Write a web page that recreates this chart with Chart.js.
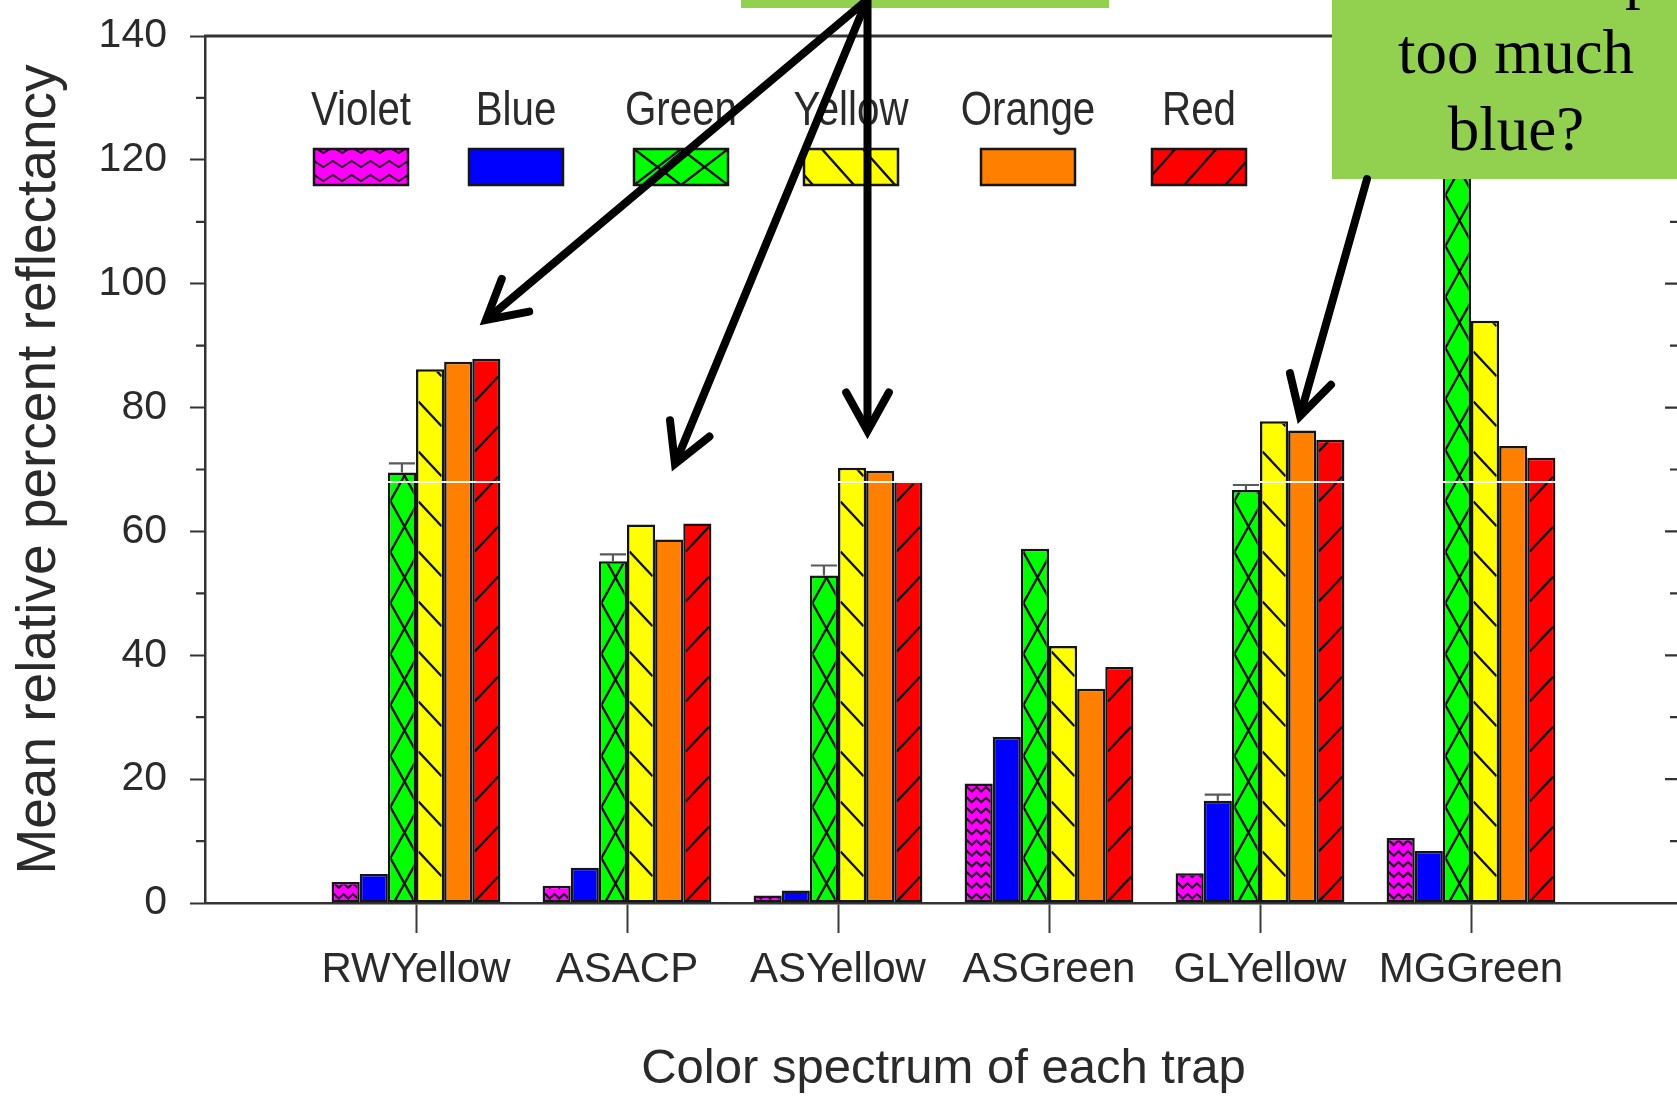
<!DOCTYPE html>
<html>
<head>
<meta charset="utf-8">
<title>Mean relative percent reflectancy by trap</title>
<script src="https://cdn.jsdelivr.net/npm/chart.js@4.4.1/dist/chart.umd.min.js"></script>
<style>
  html, body { margin: 0; padding: 0; overflow: hidden; background: #ffffff; }
  #wrap { position: relative; width: 1677px; height: 1101px; overflow: hidden; }
  canvas { display: block; }
</style>
</head>
<body>
<div id="wrap"><canvas id="chart" width="1690" height="1101"></canvas></div>
<script>
// ---- data ----
const categories = ['RWYellow', 'ASACP', 'ASYellow', 'ASGreen', 'GLYellow', 'MGGreen'];
const seriesNames = ['Violet', 'Blue', 'Green', 'Yellow', 'Orange', 'Red'];
const violet = [3.4, 2.8, 1.2, 19.3, 4.8, 10.5];
const blue   = [4.7, 5.7, 2.0, 26.8, 16.5, 8.4];
const green  = [69.5, 55.2, 52.9, 57.2, 66.7, 126.0];
const yellow = [86.2, 61.1, 70.3, 41.5, 77.8, 94.0];
const orange = [87.4, 58.7, 69.8, 34.6, 76.3, 73.8];
const red    = [87.9, 61.3, 68.1, 38.1, 74.8, 71.9];
const blueErr  = [0, 0, 0, 0, 1.0, 0];
const greenErr = [1.5, 1.1, 1.6, 0, 0.8, 0];
const yTicks = [0, 20, 40, 60, 80, 100, 120, 140];

// ---- styles ----
const SANS = '"Liberation Sans", Arial, Helvetica, sans-serif';
const SERIF = '"Liberation Serif", "Times New Roman", serif';
const INK = '#2a2a2a';
const fills = ['#ff00ff', '#0000ff', '#00ff00', '#ffff00', '#ff8000', '#ff0000'];
const hatchKinds = ['zigzag', null, 'cross', 'back', null, 'fwd'];
const seriesValues = [violet, blue, green, yellow, orange, red];
const seriesErrors = [null, blueErr, greenErr, null, null, null];

// one empty slot on each side of the traps keeps the frame a full step away
const slots = ['', ...categories, ''];
const pad = arr => [null, ...arr, null];

function hasFont(name) {
  const c = document.createElement('canvas').getContext('2d');
  const probe = 'RWYellow ASGreen MGGreen';
  c.font = '40px monospace';
  const w0 = c.measureText(probe).width;
  c.font = '40px "' + name + '", monospace';
  return Math.abs(c.measureText(probe).width - w0) > 0.5;
}
const narrow = hasFont('Liberation Sans Narrow');
const catFont = narrow ? { family: '"Liberation Sans Narrow", ' + SANS, size: 50 } : { family: SANS, size: 42 };

// hatch settings inside bars and inside legend swatches
const barHatch = {
  zigzag: { rowH: 10.7, hw: 4.7, amp: 4.5, phase: 3, color: '#2a002a', lw: 2.2 },
  cross:  { cw: 28.13, ph: 51, phase: 18, lw: 2.4 },
  back:   { slope: 1.07, ph: 50, phase: 0, lw: 2.4 },
  fwd:    { slope: 1.07, ph: 50, phase: 0, lw: 2.4 }
};
const swatchHatch = {
  zigzag: { rowH: 14, hw: 9.4, amp: 6, phase: 4, color: '#2a002a', lw: 2 },
  cross:  { cw: 47, ph: 36, phase: 18, lw: 2.4 },
  back:   { slope: 1.12, ph: 46, phase: 10, lw: 2.4 },
  fwd:    { slope: 1.12, ph: 46, phase: 10, lw: 2.4 }
};

function drawHatch(ctx, kind, l, t, r, b, o) {
  if (r <= l || b <= t) return;
  ctx.save();
  ctx.beginPath();
  ctx.rect(l, t, r - l, b - t);
  ctx.clip();
  ctx.strokeStyle = o.color || '#111111';
  ctx.lineWidth = o.lw || 2;
  ctx.lineJoin = 'miter';
  ctx.beginPath();
  if (kind === 'cross') {
    const h = o.ph / 2;
    for (let x0 = l; x0 < r; x0 += o.cw) {
      for (let yc = b - o.phase + o.ph; yc > t - o.ph; yc -= o.ph) {
        ctx.moveTo(x0, yc - h); ctx.lineTo(x0 + o.cw, yc + h);
        ctx.moveTo(x0, yc + h); ctx.lineTo(x0 + o.cw, yc - h);
      }
    }
  } else if (kind === 'back' || kind === 'fwd') {
    const dy = o.slope * (r - l);
    const sgn = kind === 'back' ? 1 : -1;
    const n = Math.ceil((b - t + dy) / o.ph) + 2;
    for (let k = -n; k <= n; k++) {
      const y = b - o.phase + k * o.ph;
      ctx.moveTo(l, y); ctx.lineTo(r, y + sgn * dy);
    }
  } else if (kind === 'zigzag') {
    for (let y = b - o.phase; y > t - o.amp; y -= o.rowH) {
      let up = false;
      ctx.moveTo(l - o.hw, y);
      for (let x = l; x <= r + o.hw; x += o.hw) {
        up = !up;
        ctx.lineTo(x, up ? y - o.amp : y);
      }
    }
  }
  ctx.stroke();
  ctx.restore();
}

// hatch fills and error caps on top of the plain bars
const barDetailPlugin = {
  id: 'barDetail',
  afterDatasetsDraw(chart) {
    const ctx = chart.ctx;
    const yScale = chart.scales.y;
    chart.data.datasets.forEach((ds, di) => {
      const meta = chart.getDatasetMeta(di);
      meta.data.forEach((el, i) => {
        const v = ds.data[i];
        if (v == null) return;
        const p = el.getProps(['x', 'y', 'base', 'width'], true);
        const l = p.x - p.width / 2, r = p.x + p.width / 2;
        if (ds.hatch) drawHatch(ctx, ds.hatch, l + 2.5, p.y + 2.5, r - 2.5, p.base - 1, barHatch[ds.hatch]);
        if (ds.err && ds.err[i]) {
          const yTop = yScale.getPixelForValue(v + ds.err[i]);
          ctx.save();
          ctx.strokeStyle = '#5a5a5a';
          ctx.lineWidth = 2.2;
          ctx.beginPath();
          ctx.moveTo(l + 1, yTop); ctx.lineTo(r - 1, yTop);
          ctx.moveTo(p.x, yTop); ctx.lineTo(p.x, p.y);
          ctx.stroke();
          ctx.restore();
        }
      });
    });
  }
};

function squeezedText(ctx, text, cx, baseline, size, sx, font, color) {
  ctx.save();
  ctx.translate(cx, baseline);
  ctx.scale(sx, 1);
  ctx.font = size + 'px ' + font;
  ctx.fillStyle = color;
  ctx.textAlign = 'center';
  ctx.textBaseline = 'alphabetic';
  ctx.fillText(text, 0, 0);
  ctx.restore();
}

function arrow(ctx, x1, y1, x2, y2, lw, head, ang) {
  const a = Math.atan2(y1 - y2, x1 - x2);
  ctx.save();
  ctx.strokeStyle = '#000000';
  ctx.lineWidth = lw;
  ctx.lineCap = 'round';
  ctx.lineJoin = 'round';
  ctx.beginPath();
  ctx.moveTo(x1, y1);
  ctx.lineTo(x2 + Math.cos(a) * lw * 0.9, y2 + Math.sin(a) * lw * 0.9);
  ctx.stroke();
  ctx.lineJoin = 'miter';
  ctx.beginPath();
  ctx.moveTo(x2 + head * Math.cos(a + ang), y2 + head * Math.sin(a + ang));
  ctx.lineTo(x2, y2);
  ctx.lineTo(x2 + head * Math.cos(a - ang), y2 + head * Math.sin(a - ang));
  ctx.stroke();
  ctx.restore();
}

// frame, extra ticks, legend and the slide callouts
const overlayPlugin = {
  id: 'overlay',
  afterDraw(chart) {
    const ctx = chart.ctx;
    const area = chart.chartArea;
    const yScale = chart.scales.y;

    ctx.save();
    ctx.strokeStyle = '#333333';
    // top frame line
    ctx.lineWidth = 3;
    ctx.beginPath();
    ctx.moveTo(area.left - 1, area.top);
    ctx.lineTo(area.right + 2, area.top);
    ctx.stroke();
    // right frame with inward ticks
    ctx.lineWidth = 2.5;
    ctx.beginPath();
    ctx.moveTo(area.right, area.top);
    ctx.lineTo(area.right, area.bottom);
    ctx.stroke();
    ctx.lineWidth = 2.2;
    ctx.beginPath();
    for (let v = 10; v < 140; v += 10) {
      const py = yScale.getPixelForValue(v);
      const len = v % 20 === 0 ? 17 : 12;
      ctx.moveTo(area.right - len, py); ctx.lineTo(area.right, py);
      if (v % 20 !== 0) { ctx.moveTo(area.left - 9, py); ctx.lineTo(area.left, py); }
    }
    ctx.stroke();
    ctx.restore();

    // thin white seam across the plot at mid-height
    ctx.save();
    ctx.fillStyle = 'rgba(255,255,255,0.95)';
    ctx.fillRect(area.left + 2, 481, area.right - area.left, 2);
    ctx.restore();

    // legend: label above a patterned swatch
    const centers = [361, 516, 681, 851, 1028, 1199];
    const sw = 94, sh = 36, sTop = 149;
    chart.data.datasets.forEach((ds, i) => {
      const cx = centers[i];
      squeezedText(ctx, ds.label, cx, 125, 48, 0.84, SANS, INK);
      const l = cx - sw / 2;
      ctx.save();
      ctx.fillStyle = ds.backgroundColor;
      ctx.fillRect(l, sTop, sw, sh);
      ctx.restore();
      if (ds.hatch) drawHatch(ctx, ds.hatch, l, sTop, l + sw, sTop + sh, swatchHatch[ds.hatch]);
      ctx.save();
      ctx.strokeStyle = '#151515';
      ctx.lineWidth = 2.5;
      ctx.strokeRect(l, sTop, sw, sh);
      ctx.restore();
    });

    // callout boxes
    ctx.save();
    ctx.fillStyle = '#92d050';
    ctx.fillRect(741, 0, 368, 8);
    ctx.fillRect(1332, 0, 360, 179);
    ctx.fillStyle = '#000000';
    ctx.font = '63px ' + SERIF;
    ctx.textAlign = 'center';
    ctx.textBaseline = 'alphabetic';
    ctx.fillText('Yellow trap', 1510, -4);
    ctx.fillText('too much', 1516, 73);
    ctx.fillText('blue?', 1516, 150);
    ctx.restore();

    // arrows
    const head = 44, ang = 29 * Math.PI / 180;
    arrow(ctx, 867, 0, 486, 320, 8, head, ang);
    arrow(ctx, 867, 0, 675, 464, 8, head, ang);
    arrow(ctx, 867.5, 0, 867.5, 431, 8, head, ang);
    arrow(ctx, 1367, 179, 1300, 416, 8, head, ang);
  }
};

const datasets = seriesNames.map((name, i) => ({
  label: name,
  data: pad(seriesValues[i]),
  backgroundColor: fills[i],
  borderColor: '#151515',
  borderWidth: 2.5,
  borderSkipped: false,
  categoryPercentage: 0.8,
  barPercentage: 1.0,
  hatch: hatchKinds[i],
  err: seriesErrors[i] ? pad(seriesErrors[i]) : null
}));

new Chart(document.getElementById('chart'), {
  type: 'bar',
  data: { labels: slots, datasets },
  options: {
    responsive: false,
    animation: false,
    devicePixelRatio: 1,
    layout: { padding: { left: 0, right: 8, top: 36, bottom: 0 } },
    plugins: { legend: { display: false }, tooltip: { enabled: false } },
    scales: {
      x: {
        type: 'category',
        offset: false,
        grid: {
          display: true,
          offset: false,
          drawOnChartArea: false,
          drawTicks: true,
          tickLength: 30,
          tickWidth: 2,
          tickColor: c => (c.index === 0 || c.index === slots.length - 1) ? 'rgba(0,0,0,0)' : '#3a3a3a'
        },
        border: { display: true, color: '#333333', width: 2.5 },
        ticks: {
          font: catFont,
          color: INK,
          padding: 37 - 0.6 * catFont.size,
          maxRotation: 0,
          minRotation: 0,
          autoSkip: false
        },
        title: {
          display: true,
          text: 'Color spectrum of each trap',
          font: { family: SANS, size: 49 },
          color: INK,
          padding: { top: 0, bottom: 2 }
        },
        afterFit(scale) {
          scale.height = 198;
          scale.paddingLeft = 0;
          scale.paddingRight = 0;
        }
      },
      y: {
        min: 0,
        max: 140,
        afterBuildTicks(scale) { scale.ticks = yTicks.map(v => ({ value: v })); },
        grid: { drawOnChartArea: false, drawTicks: true, tickLength: 15, tickWidth: 2, tickColor: '#333333' },
        border: { display: true, color: '#333333', width: 2.5 },
        ticks: { font: { family: SANS, size: 41 }, color: INK, padding: 23 },
        title: {
          display: true,
          text: 'Mean relative percent reflectancy',
          font: { family: SANS, size: 55 },
          color: INK,
          padding: { top: 7, bottom: 0 }
        },
        afterFit(scale) {
          scale.width = 205;
          scale.paddingTop = 0;
          scale.paddingBottom = 0;
        }
      }
    }
  },
  plugins: [barDetailPlugin, overlayPlugin]
});
</script>
</body>
</html>
